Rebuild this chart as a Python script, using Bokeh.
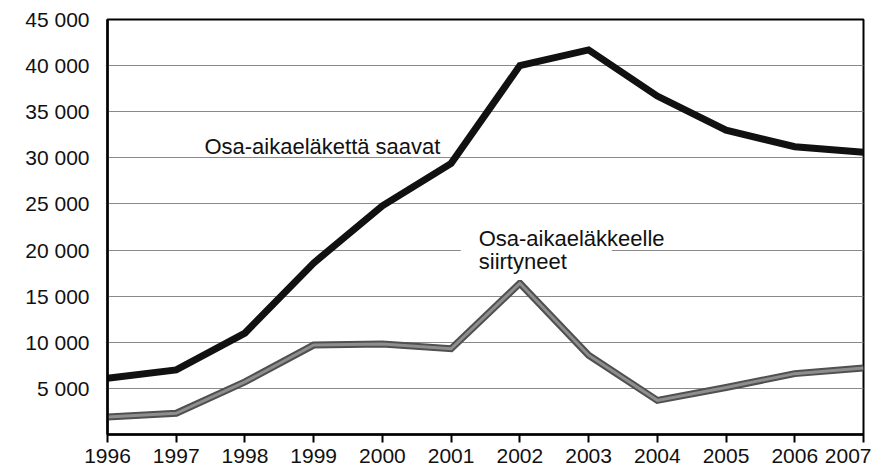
from bokeh.plotting import figure
from bokeh.models import Range1d, FixedTicker, Label
from bokeh.embed import file_html
from bokeh.resources import INLINE

years = [1996, 1997, 1998, 1999, 2000, 2001, 2002, 2003, 2004, 2005, 2006, 2007]
saavat = [6100, 7000, 11000, 18600, 24800, 29400, 40000, 41700, 36700, 33000, 31200, 30600]
siirtyneet = [1900, 2300, 5700, 9700, 9800, 9300, 16400, 8600, 3700, 5100, 6600, 7200]
y_ticks = [0, 5000, 10000, 15000, 20000, 25000, 30000, 35000, 40000, 45000]
y_labels = {t: ("" if t == 0 else f"{t // 1000} 000") for t in y_ticks}
label_saavat = "Osa-aikaeläkettä saavat"
label_siirt_1 = "Osa-aikaeläkkeelle"
label_siirt_2 = "siirtyneet"

FONT = "Liberation Sans"

p = figure(width=871, height=472, output_backend="svg", toolbar_location=None,
           x_range=Range1d(1996, 2007), y_range=Range1d(0, 45000),
           min_border_left=107, min_border_right=8, min_border_top=19, min_border_bottom=38)
p.background_fill_color = "white"
p.border_fill_color = "white"
p.outline_line_color = "black"
p.outline_line_width = 2

p.xgrid.grid_line_color = None
p.ygrid.ticker = FixedTicker(ticks=y_ticks)
p.ygrid.grid_line_color = "#8a8a8a"
p.ygrid.grid_line_width = 1

p.xaxis.ticker = FixedTicker(ticks=years)
p.xaxis.axis_line_color = "black"
p.xaxis.axis_line_width = 2.5
p.xaxis.major_tick_out = 8
p.xaxis.major_tick_in = 0
p.xaxis.major_tick_line_width = 2
p.xaxis.minor_tick_line_color = None
p.xaxis.major_label_standoff = 6
p.xaxis.major_label_text_font = FONT
p.xaxis.major_label_text_font_size = "21px"
p.xaxis.major_label_text_color = "#111111"

p.yaxis.ticker = FixedTicker(ticks=y_ticks)
p.yaxis.major_label_overrides = y_labels
p.yaxis.axis_line_color = "black"
p.yaxis.axis_line_width = 2.5
p.yaxis.major_tick_line_color = None
p.yaxis.major_tick_out = 0
p.yaxis.major_tick_in = 0
p.yaxis.minor_tick_line_color = None
p.yaxis.major_label_standoff = 18
p.yaxis.major_label_text_font = FONT
p.yaxis.major_label_text_font_size = "21px"
p.yaxis.major_label_text_color = "#111111"

# grey series (dark edges, lighter core)
p.line(years, siirtyneet, line_color="#505050", line_width=7, line_join="miter")
p.line(years, siirtyneet, line_color="#8e8e8e", line_width=3, line_join="miter")
# black series
p.line(years, saavat, line_color="#111111", line_width=7, line_join="miter")

p.add_layout(Label(x=1997.41, y=31200, text=label_saavat, text_font=FONT,
                   text_font_size="22px", text_color="#111111", text_baseline="alphabetic"))
p.add_layout(Label(x=2001.14, y=18590, text=label_siirt_2, text_font=FONT,
                   text_font_size="22px", text_color="#111111", text_baseline="alphabetic",
                   background_fill_color="white",
                   padding=dict(left=18, right=45, top=3, bottom=6)))
p.add_layout(Label(x=2001.40, y=21300, text=label_siirt_1, text_font=FONT,
                   text_font_size="22px", text_color="#111111", text_baseline="alphabetic"))

open("out.html", "w").write(file_html(p, INLINE))
